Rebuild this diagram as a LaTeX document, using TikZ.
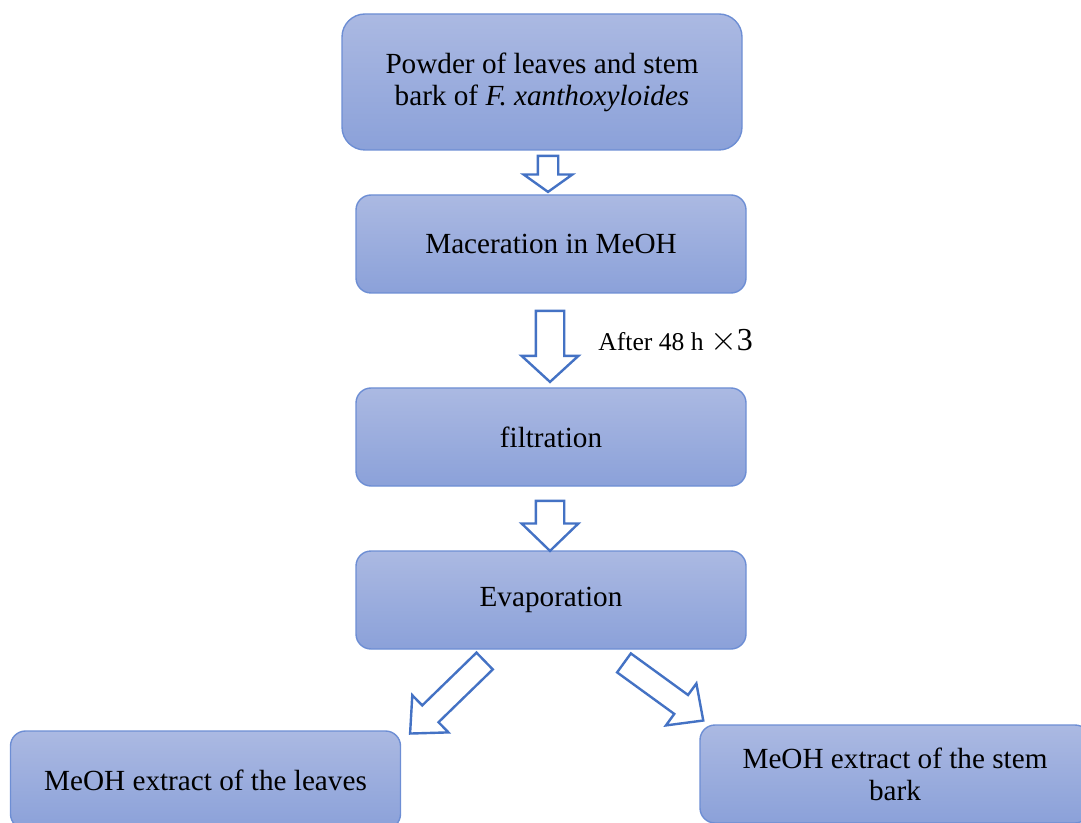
\documentclass[tikz,border=0pt]{standalone}
\usepackage{fontspec}
\setmainfont{Liberation Serif}
\usetikzlibrary{shapes.arrows,calc}

\definecolor{boxtop}{RGB}{171,185,226}
\definecolor{boxbot}{RGB}{139,161,217}
\definecolor{boxline}{RGB}{109,142,212}
\definecolor{arrowblue}{RGB}{68,114,196}

\tikzset{
    procbox/.style={rectangle, rounded corners=7.5pt, draw=boxline, line width=0.7pt,
        top color=boxtop, bottom color=boxbot, align=center,
        minimum width=195pt, minimum height=49pt, inner sep=2pt,
        font=\fontsize{14.6}{16}\selectfont},
    flowarrow/.style={single arrow, draw=arrowblue, fill=white, line width=1.2pt,
        inner xsep=0pt, anchor=tail},
}

\begin{document}
\begin{tikzpicture}[x=0.5pt, y=-0.5pt]

\useasboundingbox (0,0) rectangle (1081,823);

% process boxes
\node[procbox, minimum width=200pt, minimum height=68pt, rounded corners=11.5pt] (pow) at (542,82)
    {Powder of leaves and stem\\bark of \textit{F. xanthoxyloides}};
\node[procbox] (mac)  at (551,244) {Maceration in MeOH};
\node[procbox] (filt) at (551,437) {filtration};
\node[procbox] (evap) at (551,600) {Evaporation};

\node[procbox] (leafx) at (205.5,780) {MeOH extract of the leaves};
\node[procbox] (barkx) at (895,774) {MeOH extract of the stem\\bark};

% block arrows (inner ysep = half the shaft)
\node[flowarrow, rotate=-90, minimum height=18pt, minimum width=24pt, inner ysep=4.5pt,
    single arrow tip angle=109] (a1) at ($(pow.south)+(6,4)$) {};
\node[flowarrow, rotate=-90, minimum height=35.5pt, minimum width=24pt, inner ysep=6.5pt,
    single arrow tip angle=95] (a2) at ($(mac.south)+(-1,16)$) {};
\node[flowarrow, rotate=-90, minimum height=25pt, minimum width=24pt, inner ysep=6.5pt,
    single arrow tip angle=92] (a3) at ($(filt.south)+(-1,13)$) {};
\node[flowarrow, rotate=224.2, minimum height=52pt, minimum width=17.5pt, inner ysep=5.25pt,
    single arrow tip angle=85] (a4) at ($(evap.south)+(-65.5,10.5)$) {};
\node[flowarrow, rotate=-36, minimum height=49pt, minimum width=18pt, inner ysep=5.25pt,
    single arrow tip angle=87] (a5) at ($(evap.south)+(72,12.5)$) {};

% repeat note
\node[anchor=west, inner sep=0pt, font=\fontsize{12.8}{14}\selectfont] (rep) at ($(mac.south)+(47,48)$)
    {After 48 h {\fontsize{16}{16}\selectfont$\times$3}};

\end{tikzpicture}
\end{document}
